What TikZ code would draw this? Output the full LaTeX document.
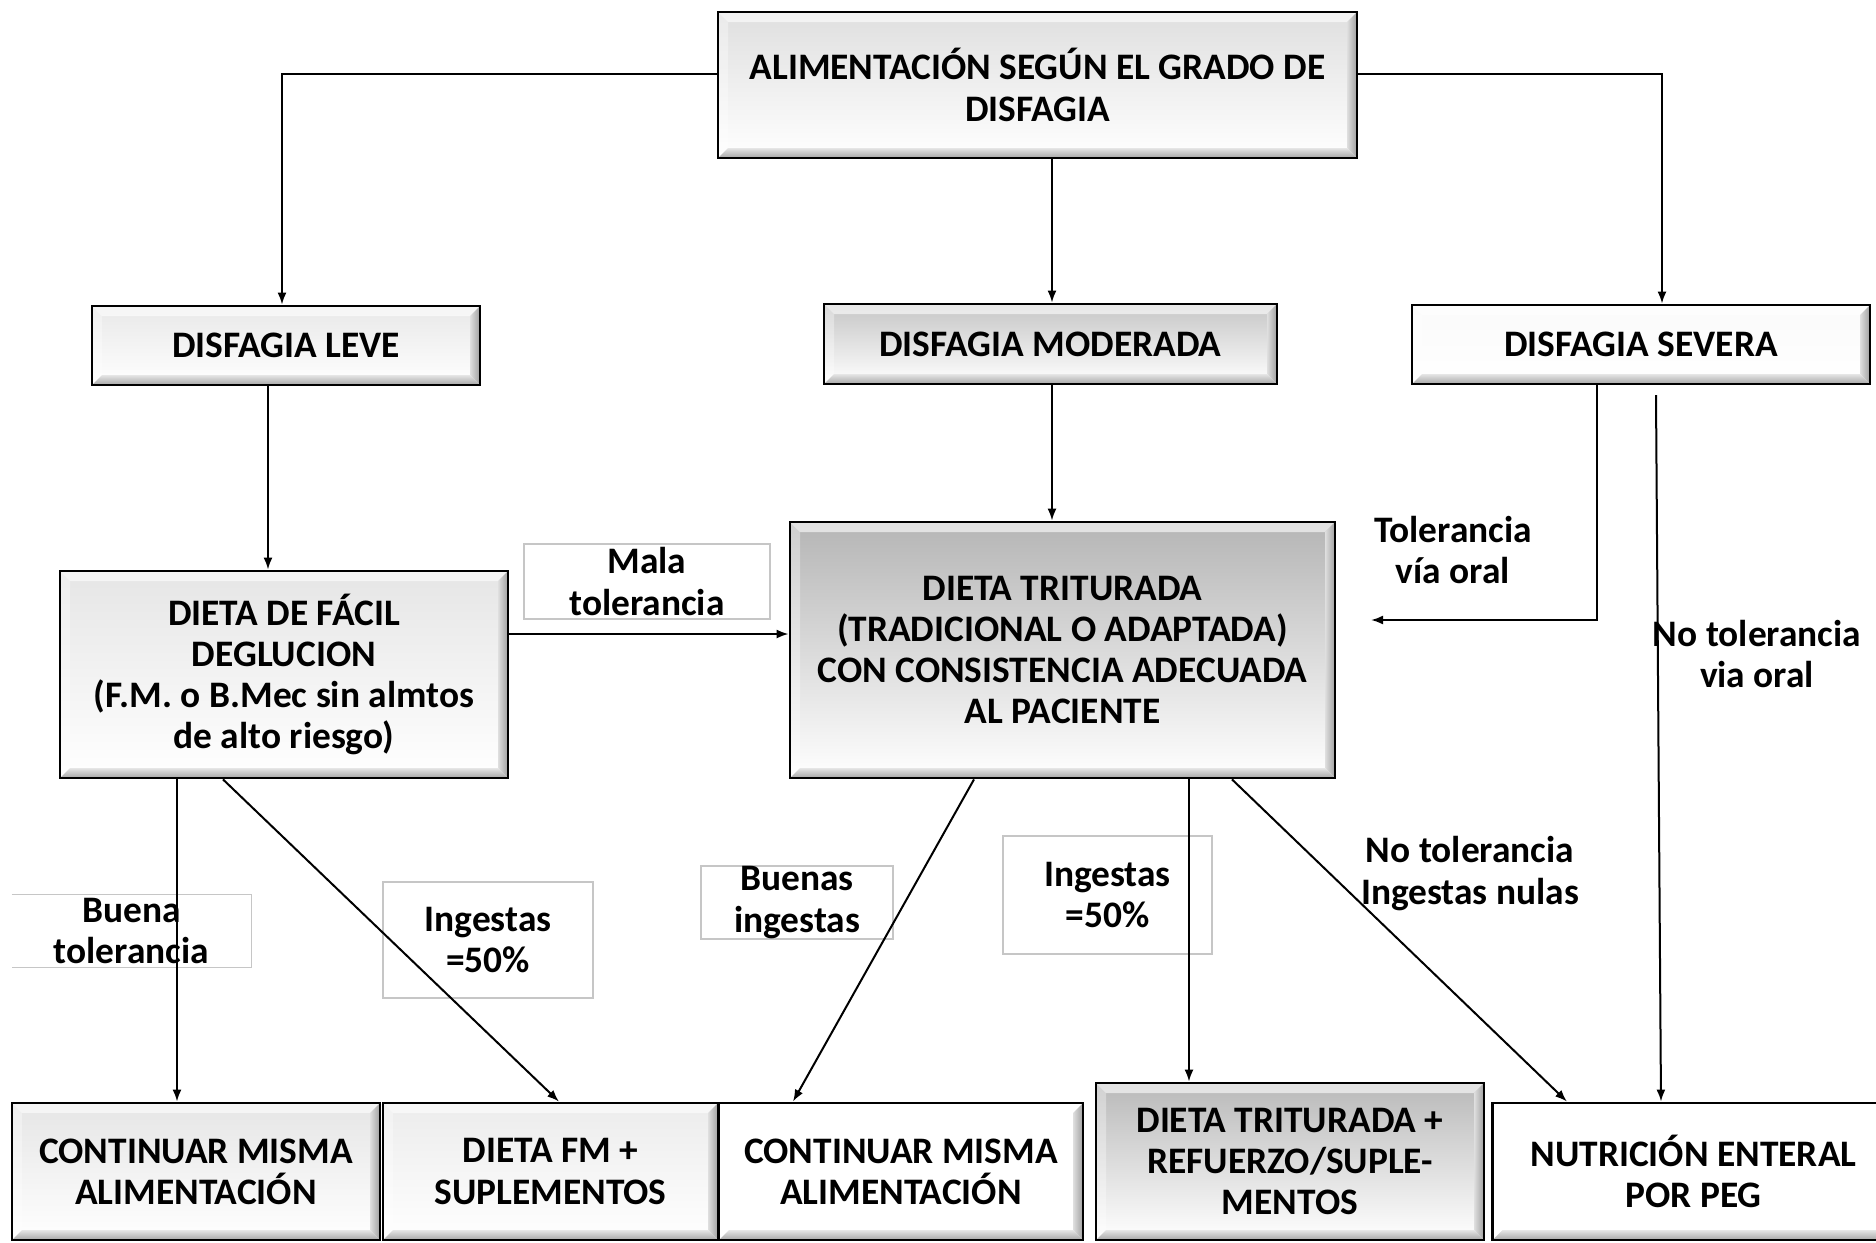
\documentclass[tikz,border=0pt]{standalone}
\usepackage{fontspec}
\setmainfont{Carlito}
\usetikzlibrary{arrows.meta,calc}

\newcommand\ppb{path picture bounding box}
\newcommand\labelfont{\fontsize{18.7}{20.6}\selectfont\bfseries}

\tikzset{
  card/.style={draw=black, line width=1.4pt, top color=#1, bottom color=white,
    inner sep=0pt, align=center, font=\labelfont,
    path picture={
      % bevelled rim: light on top/left, darker on right/bottom
      \fill[white,opacity=0.6] (\ppb.north west) -- (\ppb.north east)
        -- ($(\ppb.north east)+(-5pt,-5pt)$) -- ($(\ppb.north west)+(5pt,-5pt)$) -- cycle;
      \fill[white,opacity=0.35] (\ppb.north west) -- (\ppb.south west)
        -- ($(\ppb.south west)+(5pt,5pt)$) -- ($(\ppb.north west)+(5pt,-5pt)$) -- cycle;
      \shade[left color=gray!25, right color=gray!75] (\ppb.north east) -- (\ppb.south east)
        -- ($(\ppb.south east)+(-5pt,5pt)$) -- ($(\ppb.north east)+(-5pt,-5pt)$) -- cycle;
      \shade[top color=gray!20, bottom color=gray!70] (\ppb.south west) -- (\ppb.south east)
        -- ($(\ppb.south east)+(-5pt,5pt)$) -- ($(\ppb.south west)+(5pt,5pt)$) -- cycle;
    }},
  tag/.style={draw=gray!45, line width=0.6pt, inner sep=0pt, align=center, font=\labelfont},
  note/.style={inner sep=0pt, align=center, font=\labelfont},
  link/.style={draw=black, line width=1pt},
  arr/.style={link, -{Latex[length=6pt,width=4.5pt]}}
}

\begin{document}
\begin{tikzpicture}[x=0.5pt,y=-0.5pt]
\useasboundingbox (0,0) rectangle (1876,1243);

% main boxes
\node[card=gray!25, minimum width=319.5pt, minimum height=73pt] (top) at (1037.5,85)
  {ALIMENTACIÓN SEGÚN EL GRADO DE\\DISFAGIA};
\node[card=gray!18, minimum width=194pt, minimum height=39.5pt] (leve) at (286,345.5) {DISFAGIA LEVE};
\node[card=gray!45, minimum width=226.5pt, minimum height=40pt] (moderada) at (1050.5,344) {DISFAGIA MODERADA};
\node[card=gray!4, minimum width=229pt, minimum height=39.5pt] (severa) at (1641,344.5) {DISFAGIA SEVERA};
\node[card=gray!20, minimum width=224pt, minimum height=103.5pt] (facil) at (284,674.5)
  {DIETA DE FÁCIL\\DEGLUCION\\(F.M. o B.Mec sin almtos\\de alto riesgo)};
\node[card=gray!58, minimum width=272.5pt, minimum height=128pt] (trit) at (1062.5,650)
  {DIETA TRITURADA\\(TRADICIONAL O ADAPTADA)\\CON CONSISTENCIA ADECUADA\\AL PACIENTE};

% outcome boxes
\node[card=gray!20, minimum width=184pt, minimum height=68.5pt] (cont1) at (196,1171.5)
  {CONTINUAR MISMA\\ALIMENTACIÓN};
\node[card=gray!15, minimum width=167.5pt, minimum height=68.5pt] (fm) at (550.5,1171.5)
  {DIETA FM +\\SUPLEMENTOS};
\node[card=white, minimum width=182pt, minimum height=68.5pt] (cont2) at (901,1171.5)
  {CONTINUAR MISMA\\ALIMENTACIÓN};
\node[card=gray!55, minimum width=194pt, minimum height=78.5pt] (trit2) at (1290,1161.5)
  {DIETA TRITURADA +\\REFUERZO/SUPLE-\\MENTOS};
\node[card=white, minimum width=201pt, minimum height=68.5pt] (nutri) at (1693.5,1171.5)
  {NUTRICIÓN ENTERAL\\POR PEG};

% condition labels
\node[tag, minimum width=123pt, minimum height=37.5pt] (mala) at (647,581.5) {Mala\\tolerancia};
\node[note, minimum width=119.5pt, minimum height=36pt] (buena) at (131.5,931) {Buena\\tolerancia};
\draw[draw=gray!45, line width=0.6pt] (buena.north west) -- (buena.north east)
  -- (buena.south east) -- (buena.south west);
\node[tag, minimum width=105pt, minimum height=58pt] (ing1) at (488,940) {Ingestas\\=50\%};
\node[tag, minimum width=96pt, minimum height=36.5pt] (buenas) at (797,902.5) {Buenas\\ingestas};
\node[tag, minimum width=104.5pt, minimum height=59pt] (ing2) at (1107.5,895) {Ingestas\\=50\%};
\node[note] (tol) at (1453,550) {Tolerancia\\vía oral};
\node[note] (notol) at (1757,654) {No tolerancia\\via oral};
\node[note] (nulas) at (1470,873.5) {No tolerancia\\Ingestas nulas};

% free ends of the severe-dysphagia branches
\coordinate (tolend) at (1371,620);
\coordinate (pegstart) at (1656,395);

% connectors
\draw[arr] (top.west |- 0,74) -| (282,0 |- leve.north);
\draw[arr] (top.east |- 0,74) -| (1662,0 |- severa.north);
\draw[arr] (1052,0 |- top.south) -- (1052,0 |- moderada.north);
\draw[arr] (268,0 |- leve.south) -- (268,0 |- facil.north);
\draw[arr] (1052,0 |- moderada.south) -- (1052,0 |- trit.north);
\draw[arr] (facil.east |- 0,634) -- (trit.west |- 0,634);
\draw[arr] (1597,0 |- severa.south) |- (tolend);
\draw[arr] (pegstart) -- (1661,0 |- nutri.north);
\draw[arr] (177,0 |- facil.south) -- (177,0 |- cont1.north);
\draw[arr] (223,0 |- facil.south) -- (559,0 |- fm.north);
\draw[arr] (974,0 |- trit.south) -- (793,0 |- cont2.north);
\draw[arr] (1189,0 |- trit.south) -- (1189,0 |- trit2.north);
\draw[arr] (1232,0 |- trit.south) -- (1567,0 |- nutri.north);
\end{tikzpicture}
\end{document}
